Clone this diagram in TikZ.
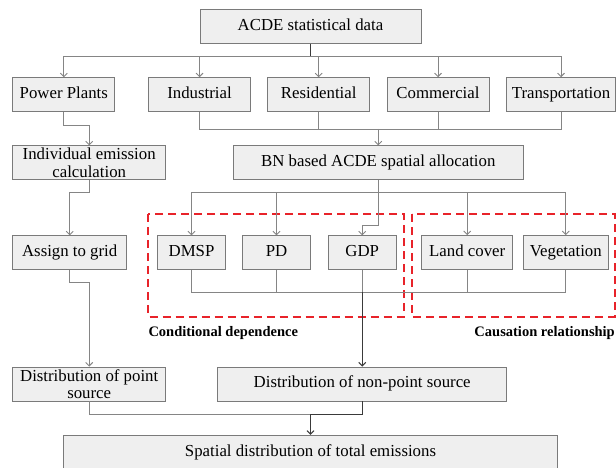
\documentclass[tikz,border=0pt]{standalone}
\usepackage{fontspec}
\setmainfont{Liberation Serif}
\usetikzlibrary{arrows.meta}
\definecolor{boxfill}{HTML}{EFEFEF}
\definecolor{boxline}{HTML}{7A7A7A}
\definecolor{connc}{HTML}{858585}
\definecolor{darkc}{HTML}{3A3A3A}
\definecolor{dashred}{HTML}{E8232A}
\begin{document}
\begin{tikzpicture}[x=1pt,y=-1pt,
 box/.style={draw=boxline, fill=boxfill, line width=0.9pt, inner sep=0pt, minimum height=34pt,
   font=\fontsize{16.8}{17.5}\selectfont, align=center, text=black},
 box1/.style={box, text height=11.2pt, text depth=3.6pt},
 conn/.style={draw=connc, line width=0.9pt},
 dconn/.style={draw=darkc, line width=1pt},
 tip/.style={-{Straight Barb[length=3.5pt,width=7pt]}},
 grp/.style={draw=dashred, line width=2pt, dash pattern=on 8pt off 5pt},
 lbl/.style={font=\fontsize{14.5}{16}\selectfont\bfseries, inner sep=0pt}]
\useasboundingbox (0,0) rectangle (616,468);

% dashed groups
\draw[grp] (148.3,214) rectangle (404,316.7);
\draw[grp] (411.7,214) rectangle (614.5,316.7);

% nodes
\node[box1, minimum width=221pt] (acde) at (310.5,26.3) {ACDE statistical data};
\node[box1, minimum width=102pt] (pp) at (63.8,94.7) {Power Plants};
\node[box1, minimum width=102pt] (ind) at (199.5,94.7) {Industrial};
\node[box1, minimum width=102pt] (res) at (318.7,94.7) {Residential};
\node[box1, minimum width=102pt] (com) at (438,94.7) {Commercial};
\node[box1, minimum width=109pt] (tra) at (561,94.7) {Transportation};
\node[box, minimum width=153pt] (indem) at (89.2,162.8) {Individual emission\\calculation};
\node[box1, minimum width=290pt] (bn) at (378.3,162.8) {BN based ACDE spatial allocation};
\node[box1, minimum width=114pt] (grid) at (69.7,252.8) {Assign to grid};
\node[box1, minimum width=68pt] (dmsp) at (191.5,252.8) {DMSP};
\node[box1, minimum width=68pt] (pd) at (276.5,252.8) {PD};
\node[box1, minimum width=68pt] (gdp) at (362.2,252.8) {GDP};
\node[box1, minimum width=91pt] (land) at (467.2,252.6) {Land cover};
\node[box1, minimum width=85pt] (veg) at (565.8,252.6) {Vegetation};
\node[box, minimum width=153pt] (dps) at (89.2,384) {Distribution of point\\source};
\node[box1, minimum width=289pt] (dnps) at (362.2,384) {Distribution of non-point source};
\node[box1, minimum width=494pt, minimum height=35pt] (spat) at (310.5,452.8) {Spatial distribution of total emissions};

\node[lbl, anchor=west] (cd) at (148.3,332.7) {Conditional dependence};
\node[lbl, anchor=east] (cr) at (615,332.7) {Causation relationship};

% junction coordinates
\coordinate (tb) at (310.5,56.7);
\coordinate (mb) at (378.3,129);
\coordinate (c1) at (89.2,125);
\coordinate (c2) at (69.7,192.7);
\coordinate (c3) at (89.2,282.7);
\coordinate (bb) at (378.3,192.7);
\coordinate (c4) at (378.3,225);
\coordinate (lb) at (362.2,292.3);
\coordinate (fb) at (310.5,414.3);

% top distribution
\draw[dconn] (acde.south) -- (tb);
\draw[conn,tip] (tb) -| (pp.north);
\draw[conn,tip] (tb) -| (ind.north);
\draw[conn,tip] (tb) -| (res.north);
\draw[conn,tip] (tb) -| (com.north);
\draw[conn,tip] (tb) -| (tra.north);

% sectors to BN
\draw[conn] (ind.south) |- (mb);
\draw[conn] (res.south) |- (mb);
\draw[conn] (com.south) |- (mb);
\draw[conn] (tra.south) |- (mb);
\draw[conn,tip] (mb) -- (bn.north);

% point-source chain
\draw[conn,tip] (pp.south) |- (c1) -- (indem.north);
\draw[conn,tip] (indem.south) |- (c2) -- (grid.north);
\draw[conn,tip] (grid.south) |- (c3) -- (dps.north);

% BN to factors
\draw[conn] (bn.south) -- (bb);
\draw[conn,tip] (bb) -| (dmsp.north);
\draw[conn,tip] (bb) -| (pd.north);
\draw[conn,tip] (bb) -- (c4) -| (gdp.north);
\draw[conn,tip] (bb) -| (land.north);
\draw[conn,tip] (bb) -| (veg.north);

% factors to non-point
\draw[conn] (dmsp.south) |- (lb);
\draw[conn] (pd.south) |- (lb);
\draw[conn] (gdp.south) -- (lb);
\draw[conn] (land.south) |- (lb);
\draw[conn] (veg.south) |- (lb);
\draw[dconn,tip] (lb) -- (dnps.north);

% to total
\draw[conn] (dps.south) |- (fb);
\draw[dconn] (dnps.south) |- (fb);
\draw[dconn,tip] (fb) -- (spat.north);
\end{tikzpicture}
\end{document}
